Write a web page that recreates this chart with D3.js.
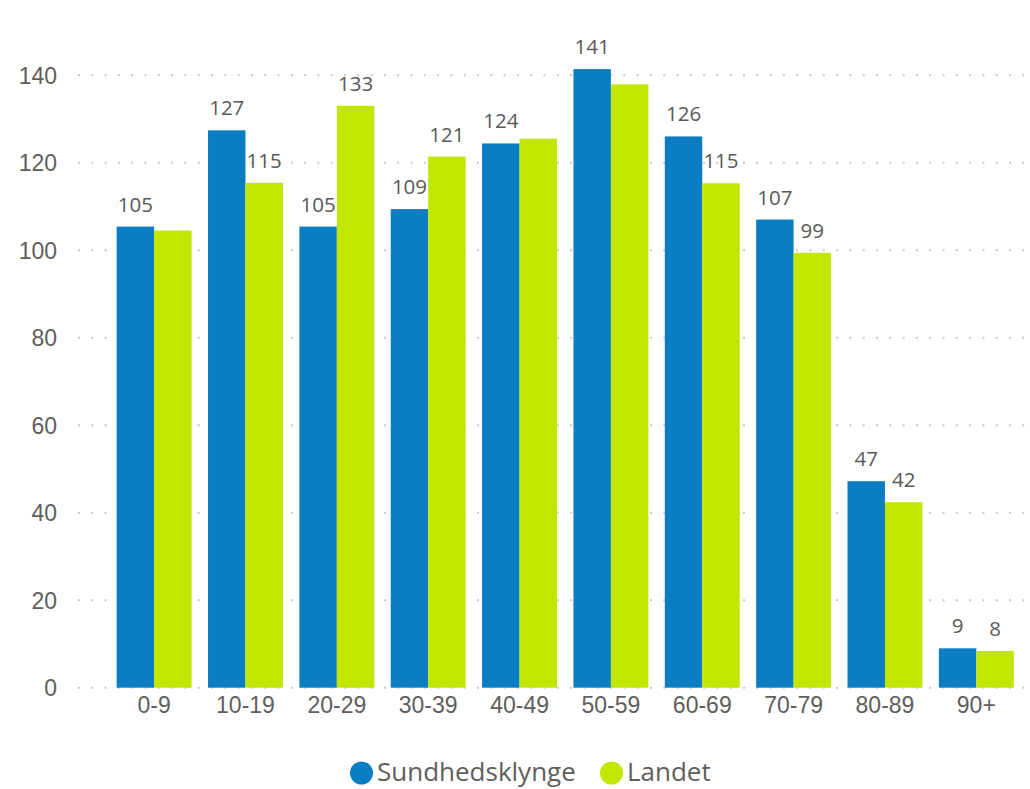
<!DOCTYPE html>
<html><head><meta charset="utf-8">
<script src="https://cdn.jsdelivr.net/npm/d3@7"></script>
<style>
html,body{margin:0;padding:0;background:#fff;}
svg{display:block;font-family:"Open Sans","Noto Sans",sans-serif;}
</style></head>
<body>
<svg id="chart" width="1030" height="789"></svg>
<script>
const categories = ["0-9","10-19","20-29","30-39","40-49","50-59","60-69","70-79","80-89","90+"];
const seriesNames = ["Sundhedsklynge","Landet"];
const sundhedsklynge = [105.4,127.4,105.4,109.4,124.4,141.4,126.0,107.0,47.2,9.0];
const landet = [104.5,115.4,133.0,121.4,125.5,137.9,115.3,99.4,42.4,8.4];
const yTicks = [0,20,40,60,80,100,120,140];
const colors = ["#0A7DC3","#C1E600"];

const svg = d3.select("#chart");
const x = d3.scaleBand().domain(categories).range([108.45,1022]).paddingInner(0.18).paddingOuter(0.09);
const x1 = d3.scaleBand().domain(seriesNames).range([0, x.bandwidth()]);
const y = d3.scaleLinear().domain([0,140]).range([687.7,75.2]);

// gridlines
const grid = svg.append("g");
grid.selectAll("line").data(yTicks).join("line")
  .attr("x1",78).attr("x2",1030)
  .attr("y1",d=>y(d)).attr("y2",d=>y(d))
  .attr("stroke","#c8c8c8").attr("stroke-width",2)
  .attr("stroke-dasharray","2,11.3").attr("stroke-linecap","butt");

// y axis
const yAxis = d3.axisLeft(y).tickValues(yTicks).tickSize(0).tickPadding(0);
const ya = svg.append("g").attr("transform","translate(57,0)").call(yAxis);
ya.select(".domain").remove();
ya.selectAll("text").attr("fill","#605E5C").style("font-size","23px").attr("dy","0.35em");

// x axis
const xAxis = d3.axisBottom(x).tickSize(0).tickPadding(0);
const xa = svg.append("g").attr("transform","translate(0,697)").call(xAxis);
xa.select(".domain").remove();
xa.selectAll("text").attr("fill","#605E5C").style("font-size","23px").attr("dy","0.71em");

const data = categories.map((c,i)=>({cat:c, vals:[sundhedsklynge[i], landet[i]]}));

const groups = svg.append("g").selectAll("g").data(data).join("g")
  .attr("transform",d=>`translate(${x(d.cat)},0)`);
groups.selectAll("rect").data(d=>d.vals.map((v,j)=>({v, s:seriesNames[j], j})))
  .join("rect")
  .attr("x",d=>x1(d.s)).attr("width",x1.bandwidth())
  .attr("y",d=>y(d.v)).attr("height",d=>y(0)-y(d.v))
  .attr("fill",d=>colors[d.j]);

// labels with overlap hiding (like Power BI)
const fmt = d3.format(".0f");
const labelFont = 20.5;
groups.each(function(d){
  const g = d3.select(this);
  const yb = d.vals.map(v=>y(v)-15);
  const txt = d.vals.map(v=>fmt(v));
  const cx = seriesNames.map(s=>x1(s)+x1.bandwidth()/2);
  const nodes = d.vals.map((v,j)=>g.append("text").attr("x",cx[j]).attr("y",yb[j])
      .attr("text-anchor","middle").attr("fill","#595959")
      .style("font-size",labelFont+"px").text(txt[j]));
  const b = nodes.map(n=>n.node().getBBox());
  const pad = 6;
  const hOver = (b[0].x + b[0].width + pad) > b[1].x;
  const vOver = Math.abs(yb[0]-yb[1]) < labelFont*1.0;
  if (hOver && vOver) nodes[1].remove();
});

// legend
const legend = svg.append("g");
const legItems = [{n:seriesNames[0],c:colors[0],cx:361.5,tx:377},{n:seriesNames[1],c:colors[1],cx:611.5,tx:627}];
legItems.forEach(it=>{
  legend.append("circle").attr("cx",it.cx).attr("cy",773).attr("r",11.5).attr("fill",it.c);
  legend.append("text").attr("x",it.tx).attr("y",781).attr("fill","#605E5C")
    .style("font-size","26px").text(it.n);
});
</script>
</body></html>
